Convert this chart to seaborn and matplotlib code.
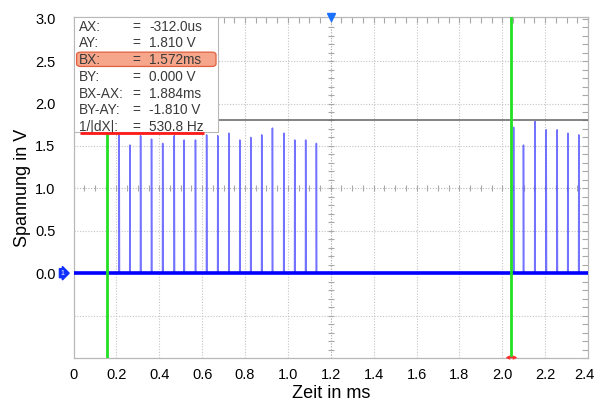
import numpy as np
import pandas as pd
import matplotlib
matplotlib.use("Agg")
import matplotlib.pyplot as plt
import matplotlib.transforms as mtransforms
from matplotlib.patches import Rectangle, FancyBboxPatch
from matplotlib.ticker import MultipleLocator, FixedLocator
import seaborn as sns

# ---- data ----
spike_t = [0.213, 0.263, 0.313, 0.364, 0.416, 0.470, 0.516, 0.569, 0.621, 0.673,
           0.725, 0.776, 0.827, 0.878, 0.928, 0.981, 1.032, 1.083, 1.133,
           2.053, 2.099, 2.152, 2.205, 2.256, 2.306, 2.357]
spike_v = [1.64, 1.51, 1.62, 1.58, 1.53, 1.62, 1.57, 1.57, 1.63, 1.62,
           1.65, 1.57, 1.60, 1.63, 1.71, 1.65, 1.57, 1.57, 1.53,
           1.72, 1.51, 1.79, 1.69, 1.69, 1.65, 1.63]
baseline_t = [0.0, 2.4]
baseline_v = [0.0, 0.0]
cursor_x = [0.157, 2.043]       # vertical cursors A, B (ms)
cursor_y = 1.81                 # horizontal cursor (V)
trigger_x = 1.2
x_ticks = [0.0, 0.2, 0.4, 0.6, 0.8, 1.0, 1.2, 1.4, 1.6, 1.8, 2.0, 2.2, 2.4]
x_ticklabels = ["0", "0.2", "0.4", "0.6", "0.8", "1.0", "1.2", "1.4", "1.6",
                "1.8", "2.0", "2.2", "2.4"]
y_ticks = [0.0, 0.5, 1.0, 1.5, 2.0, 2.5, 3.0]
y_ticklabels = ["0.0", "0.5", "1.0", "1.5", "2.0", "2.5", "3.0"]
meas_labels = ["AX:", "AY:", "BX:", "BY:", "BX-AX:", "BY-AY:", "1/|dX|:"]
meas_values = ["-312.0us", "1.810 V", "1.572ms", "0.000 V", "1.884ms", "-1.810 V", "530.8 Hz"]

# ---- waveform table ----
wt, wv = [baseline_t[0]], [0.0]
for t, v in zip(spike_t, spike_v):
    wt += [t - 0.0008, t, t + 0.0015]
    wv += [0.0, v, 0.0]
wt.append(baseline_t[1]); wv.append(0.0)
wave = pd.DataFrame({"t": wt, "v": wv})
base = pd.DataFrame({"t": baseline_t, "v": baseline_v})

sns.set_theme(style="white")
plt.rcParams["font.family"] = ["Liberation Sans", "DejaVu Sans"]

fig = plt.figure(figsize=(5.95, 4.01), dpi=100)
ax = fig.add_axes([73.5 / 595, 1 - 358 / 401, (588 - 73.5) / 595, (358 - 17) / 401])
ax.set_xlim(0, 2.4)
ax.set_ylim(-1.0, 3.02)

# grid
for gx in x_ticks[1:-1]:
    ax.axvline(gx, color="#c4c4c4", lw=0.8, ls=(0, (1, 1.5)), zorder=0)
for gy in [-0.5, 0.5, 1.5, 2.0, 2.5]:
    ax.axhline(gy, color="#c4c4c4", lw=0.8, ls=(0, (1, 1.5)), zorder=0)
# centre crosshair with small ticks
ax.axhline(1.0, color="#b8b8b8", lw=0.8, ls=(0, (1, 1.5)), zorder=0)
ax.axvline(1.2, color="#b8b8b8", lw=0.8, ls=(0, (1, 1.5)), zorder=0)
mx = np.arange(0.05, 2.4, 0.05)
ax.plot(mx, np.full_like(mx, 1.0), ls="none", marker="|", ms=4, mew=0.8, color="#a8a8a8", zorder=0)
my = np.arange(-0.9, 3.0, 0.1)
ax.plot(np.full_like(my, 1.2), my, ls="none", marker="_", ms=4, mew=0.8, color="#a8a8a8", zorder=0)

# waveform
sns.lineplot(data=wave, x="t", y="v", ax=ax, estimator=None, sort=False,
             color="#5a5aff", lw=1.1, alpha=0.85, zorder=2)
sns.lineplot(data=base, x="t", y="v", ax=ax, estimator=None, sort=False,
             color="#0000ff", lw=2.6, zorder=3)

# horizontal cursor
ax.axhline(cursor_y, color="#6e6e6e", lw=1.2, zorder=3)
# vertical cursors
for cx in cursor_x:
    ax.axvline(cx, color="#22e022", lw=2.0, zorder=4)

# measurement box
ax.add_patch(Rectangle((0.0, 0.663), 0.281, 0.337, transform=ax.transAxes,
                       facecolor="white", edgecolor="#b8b8b8", lw=0.8, zorder=6))
ax.add_patch(FancyBboxPatch((0.008, 0.857), 0.267, 0.038, transform=ax.transAxes,
                            boxstyle="round,pad=0.002,rounding_size=0.008",
                            facecolor="#f6a68a", edgecolor="#e0603e", lw=0.9, zorder=7))
row_y = [0.9716, 0.923, 0.874, 0.823, 0.774, 0.727, 0.678]
for lab, val, y in zip(meas_labels, meas_values, row_y):
    ax.text(0.0107, y, lab, transform=ax.transAxes, fontsize=9.8, color="#3a3a3a",
            va="center", ha="left", zorder=8)
    ax.text(0.1215, y, "=", transform=ax.transAxes, fontsize=9.8, color="#3a3a3a",
            va="center", ha="center", zorder=8)
    ax.text(0.1467, y, val, transform=ax.transAxes, fontsize=9.8, color="#3a3a3a",
            va="center", ha="left", zorder=8)
ax.plot([0.0126, 0.2536], [0.660, 0.660], transform=ax.transAxes, color="#ff1a1a",
        lw=2.0, zorder=9, solid_capstyle="butt")

# markers
ax.plot([trigger_x], [3.02], marker="v", ms=6, color="#1a70ff", clip_on=False, zorder=10)
ax.annotate("1", xy=(0, 0), xycoords="data", xytext=(-8, 0), textcoords="offset points",
            ha="center", va="center", fontsize=5, color="white",
            bbox=dict(boxstyle="rarrow,pad=0.15", fc="#1030ff", ec="#1030ff"),
            annotation_clip=False, zorder=10)
ax.annotate("", xy=(cursor_x[1] - 0.028, -0.995), xytext=(cursor_x[1] + 0.028, -0.995),
            arrowprops=dict(arrowstyle="<->", color="#ff3030", lw=1.0,
                            mutation_scale=5, shrinkA=0, shrinkB=0),
            annotation_clip=False, zorder=10)

# axes / ticks
ax.xaxis.set_major_locator(FixedLocator(x_ticks))
ax.set_xticklabels(x_ticklabels)
ax.xaxis.set_minor_locator(MultipleLocator(0.05))
ax.yaxis.set_major_locator(FixedLocator(y_ticks))
ax.set_yticklabels(y_ticklabels)
ax.yaxis.set_minor_locator(MultipleLocator(0.1))
ax.tick_params(which="both", direction="in", top=True, right=True, length=4,
               width=0.8, color="#a8a8a8")
ax.tick_params(axis="x", which="major", labelsize=10.5, pad=7, labelcolor="black")
ax.tick_params(axis="y", which="major", labelsize=10.5, pad=13, labelcolor="black")
last = ax.get_xticklabels()[-1]
last.set_transform(last.get_transform() +
                   mtransforms.ScaledTranslation(-4 / 100, 0, fig.dpi_scale_trans))
for s in ax.spines.values():
    s.set_color("#b8b8b8")
    s.set_linewidth(0.9)

ax.set_xlabel("Zeit in ms", fontsize=13, color="black")
ax.set_ylabel("Spannung in V", fontsize=13, color="black")
ax.xaxis.set_label_coords(0.5, -0.08)
ax.yaxis.set_label_coords(-0.083, 0.5)

fig.savefig("out.png", dpi=100)
